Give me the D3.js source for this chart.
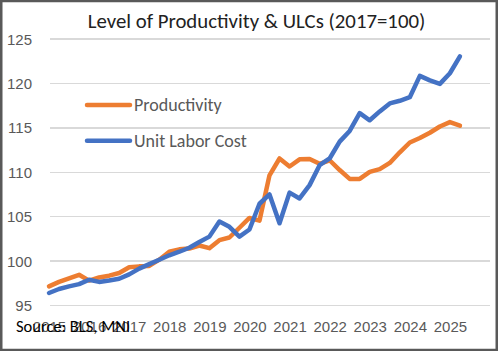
<!DOCTYPE html>
<html>
<head>
    <meta charset="utf-8" />
    <title>Level of Productivity & ULCs</title>
    <script src="https://d3js.org/d3.v7.min.js"></script>
    <style>
        body { margin: 0; background: #fff; }
        svg { display: block; font-family: Carlito, Calibri, Lato, sans-serif; }
        .grid line { stroke: #d9d9d9; stroke-width: 1.5; shape-rendering: crispEdges; }
        .axis text { fill: #595959; font-size: 15px; }
        .legend text { fill: #595959; font-size: 18px; }
    </style>
</head>
<body>
<script>

// quarterly levels, 2017 = 100
let quarters = [
    "2015Q1", "2015Q2", "2015Q3", "2015Q4",
    "2016Q1", "2016Q2", "2016Q3", "2016Q4",
    "2017Q1", "2017Q2", "2017Q3", "2017Q4",
    "2018Q1", "2018Q2", "2018Q3", "2018Q4",
    "2019Q1", "2019Q2", "2019Q3", "2019Q4",
    "2020Q1", "2020Q2", "2020Q3", "2020Q4",
    "2021Q1", "2021Q2", "2021Q3", "2021Q4",
    "2022Q1", "2022Q2", "2022Q3", "2022Q4",
    "2023Q1", "2023Q2", "2023Q3", "2023Q4",
    "2024Q1", "2024Q2", "2024Q3", "2024Q4",
    "2025Q1", "2025Q2"
];

let productivity = [
    97.1, 97.6, 98.0, 98.4, 97.75, 98.1, 98.3, 98.6,
    99.25, 99.35, 99.4, 100.1, 101.0, 101.27, 101.35, 101.7,
    101.4, 102.3, 102.6, 103.7, 104.8, 104.5, 109.6, 111.5,
    110.6, 111.4, 111.45, 110.9, 111.3, 110.2, 109.2, 109.2,
    110.0, 110.3, 111.0, 112.2, 113.3, 113.8, 114.4, 115.1,
    115.6, 115.2
];

let ulc = [
    96.35, 96.8, 97.1, 97.35, 97.85, 97.6, 97.75, 97.95,
    98.45, 99.1, 99.6, 100.1, 100.6, 101.0, 101.45, 102.1,
    102.7, 104.4, 103.8, 102.7, 103.5, 106.4, 107.45, 104.2,
    107.65, 107.0, 108.5, 110.75, 111.5, 113.4, 114.6, 116.6,
    115.8, 116.8, 117.7, 118.0, 118.4, 120.8, 120.3, 119.9,
    121.1, 123.0
];

let yearLabels = ["2015", "2016", "2017", "2018", "2019", "2020",
    "2021", "2022", "2023", "2024", "2025"];
let yTicks = [95, 100, 105, 110, 115, 120, 125];

let series = [
    { name: "Productivity", values: productivity, color: "#ed7d31" },
    { name: "Unit Labor Cost", values: ulc, color: "#4472c4" }
];

let W = 498, H = 351;
let plot = { left: 50, right: 490, top: 38.6, bottom: 305 };

let svg = d3.select("body")
    .append("svg")
    .attr("width", W)
    .attr("height", H);

svg.append("rect")
    .attr("width", W)
    .attr("height", H)
    .attr("fill", "#fff");

// one slot per quarter, axis runs a little past the last one
let xScale = d3.scaleLinear()
    .domain([0, 44])
    .range([plot.left - 1, plot.right]);

let yScale = d3.scaleLinear()
    .domain([95, 125])
    .range([plot.bottom, plot.top]);

// gridlines + y labels
let yAxis = d3.axisLeft(yScale)
    .tickValues(yTicks)
    .tickSize(-(plot.right - plot.left))
    .tickPadding(18);

let yG = svg.append("g")
    .attr("class", "axis grid")
    .attr("transform", "translate(" + plot.left + ",0)")
    .call(yAxis);
yG.select(".domain").remove();
yG.selectAll("text").attr("dy", "0.36em");

// year labels every 4 quarters
let xAxis = d3.axisBottom(xScale)
    .tickValues(yearLabels.map((d, i) => i * 4))
    .tickFormat((d, i) => yearLabels[i])
    .tickSize(0)
    .tickPadding(16);

let xG = svg.append("g")
    .attr("class", "axis")
    .attr("transform", "translate(0," + plot.bottom + ")")
    .call(xAxis);
xG.select(".domain").remove();

let line = d3.line()
    .x((d, i) => xScale(i))
    .y(d => yScale(d));

svg.selectAll("path.series")
    .data(series)
    .enter()
    .append("path")
    .attr("class", "series")
    .attr("d", d => line(d.values))
    .attr("fill", "none")
    .attr("stroke", d => d.color)
    .attr("stroke-width", 4.5)
    .attr("stroke-linejoin", "round")
    .attr("stroke-linecap", "round");

// title
svg.append("text")
    .attr("x", 256.5)
    .attr("y", 28)
    .attr("text-anchor", "middle")
    .attr("font-size", "20.8px")
    .attr("fill", "#222")
    .text("Level of Productivity & ULCs (2017=100)");

// legend
let legend = svg.append("g")
    .attr("class", "legend")
    .selectAll("g")
    .data(series)
    .enter()
    .append("g")
    .attr("transform", (d, i) => "translate(87," + (105 + i * 35.7) + ")");

legend.append("line")
    .attr("x1", 0)
    .attr("x2", 43)
    .attr("stroke", d => d.color)
    .attr("stroke-width", 4.5)
    .attr("stroke-linecap", "round");

legend.append("text")
    .attr("x", 47)
    .attr("dy", "0.36em")
    .text(d => d.name);

// source note (sits over the first year labels, as in the original)
svg.append("text")
    .attr("x", 16)
    .attr("y", 331.7)
    .attr("font-size", "16.5px")
    .attr("fill", "#000")
    .text("Source: BLS, MNI");

// chart border
svg.append("rect")
    .attr("x", 1.25)
    .attr("y", 1)
    .attr("width", W - 2.5)
    .attr("height", H - 2)
    .attr("fill", "none")
    .attr("stroke", "#595959")
    .attr("stroke-width", 2.5);

</script>
</body>
</html>
